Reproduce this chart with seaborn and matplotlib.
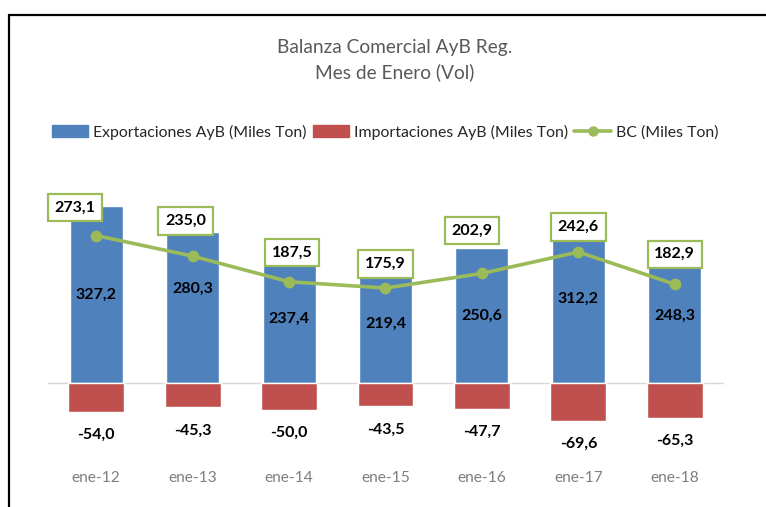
import numpy as np
import matplotlib
matplotlib.use("Agg")
import matplotlib.pyplot as plt
from matplotlib.lines import Line2D
from matplotlib.patches import Patch
import seaborn as sns

# ---- data ----
categorias = ["ene-12", "ene-13", "ene-14", "ene-15", "ene-16", "ene-17", "ene-18"]
exportaciones = [327.2, 280.3, 237.4, 219.4, 250.6, 312.2, 248.3]
importaciones = [-54.0, -45.3, -50.0, -43.5, -47.7, -69.6, -65.3]
balanza = [273.1, 235.0, 187.5, 175.9, 202.9, 242.6, 182.9]

titulo = "Balanza Comercial AyB Reg.\nMes de Enero (Vol)"
leyenda = ["Exportaciones AyB (Miles Ton)", "Importaciones AyB (Miles Ton)", "BC (Miles Ton)"]

# ---- style ----
AZUL = "#4F81BD"
ROJO = "#C0504D"
VERDE = "#9BBB59"
FONT = ["Lato", "DejaVu Sans"]

sns.set_theme(style="white")
plt.rcParams["font.family"] = FONT

W, H = 766, 507
fig = plt.figure(figsize=(W / 100, H / 100), dpi=100)
fig.patch.set_facecolor("white")

# frame lines (top and left)
fig.add_artist(Line2D([9 / W, 1.0], [1 - 15 / H, 1 - 15 / H], transform=fig.transFigure,
                      color="black", lw=1.6))
fig.add_artist(Line2D([9 / W, 9 / W], [0.0, 1 - 15 / H], transform=fig.transFigure,
                      color="black", lw=1.6))

# axes placement
zero_px = 383
scale = 0.54  # px per unit
top_px, bot_px = 190, 490
ax = fig.add_axes([48 / W, 1 - bot_px / H, 675 / W, (bot_px - top_px) / H])
ax.set_facecolor("none")

sns.barplot(x=categorias, y=exportaciones, color=AZUL, saturation=1, width=0.55, ax=ax,
            order=categorias, zorder=2)
sns.barplot(x=categorias, y=importaciones, color=ROJO, saturation=1, width=0.58, ax=ax,
            order=categorias, zorder=2)
sns.pointplot(x=categorias, y=balanza, color=VERDE, ax=ax, order=categorias,
              markers="o", linewidth=2.6, markersize=6.5, zorder=4)

ax.set_xlim(-0.5, len(categorias) - 0.5)
ax.set_ylim(-(bot_px - zero_px) / scale, (zero_px - top_px) / scale)

# axis styling
for s in ["top", "right", "left"]:
    ax.spines[s].set_visible(False)
ax.spines["bottom"].set_position(("data", 0))
ax.spines["bottom"].set_color("#D9D9D9")
ax.spines["bottom"].set_linewidth(1.0)
ax.spines["bottom"].set_zorder(1)
ax.set_yticks([])
ax.set_ylabel("")
ax.set_xlabel("")
ax.set_xticks(np.arange(-0.5, len(categorias), 1.0), minor=True)
ax.tick_params(axis="x", which="major", length=0, pad=63, labelsize=11.2,
               labelcolor="#7F7F7F")
ax.tick_params(axis="x", which="minor", length=4.5, direction="in", color="#D9D9D9",
               width=1.0)
for lab in ax.get_xticklabels():
    lab.set_fontfamily(FONT)

def fmt(v):
    return f"{v:.1f}".replace(".", ",")

LBL = 11.5

# export labels (centered in bar)
exp_dy_px = [0, 19, 0, 0, 0, 0, 0]
for i, v in enumerate(exportaciones):
    ax.annotate(fmt(v), (i, v / 2), xytext=(0, exp_dy_px[i] * 0.72), textcoords="offset points",
                ha="center", va="center", fontsize=LBL, fontweight="bold", color="black",
                zorder=5)

# import labels (below bar)
for i, v in enumerate(importaciones):
    ax.annotate(fmt(v), (i, v), xytext=(0, -23 * 0.72), textcoords="offset points",
                ha="center", va="center", fontsize=LBL, fontweight="bold", color="black",
                zorder=5)

# balance labels in boxes
bc_dx_px = [-21, -7, 3, 0, -10, 0, 0]
bc_dy_px = [28, 35, 29, 24, 43, 25, 30]
for i, v in enumerate(balanza):
    ax.annotate(fmt(v), (i, v), xytext=(bc_dx_px[i] * 0.72, bc_dy_px[i] * 0.72),
                textcoords="offset points", ha="center", va="center", fontsize=LBL,
                fontweight="bold", color="black", zorder=6,
                bbox=dict(boxstyle="square,pad=0.42", fc="white", ec=VERDE, lw=1.6))

# title
fig.text(395 / W, 1 - 60 / H, titulo, ha="center", va="center", fontsize=13.8,
         color="#595959", linespacing=1.45)

# legend
handles = [Patch(facecolor=AZUL, edgecolor=AZUL),
           Patch(facecolor=ROJO, edgecolor=ROJO),
           Line2D([0], [0], color=VERDE, lw=2.6, marker="o", markersize=6.5)]
fig.legend(handles, leyenda, loc="center", bbox_to_anchor=(385 / W, 1 - 132 / H), ncol=3,
           frameon=False, fontsize=11.4, handlelength=2.3, handleheight=0.7,
           handletextpad=0.3, columnspacing=0.4, labelcolor="#262626")

fig.savefig("out.png", dpi=100, facecolor="white")
